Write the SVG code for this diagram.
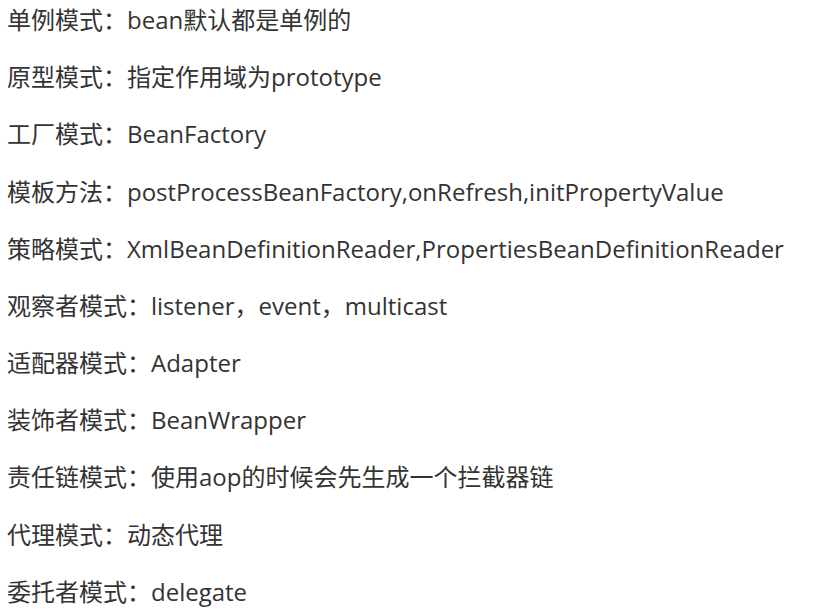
<svg xmlns="http://www.w3.org/2000/svg" width="814" height="616" viewBox="0 0 814 616">
<style>
text{font-family:"Open Sans","Noto Sans CJK SC",sans-serif;font-size:24px;fill:#333;}
</style>
<rect width="814" height="616" fill="#fff"/>
<g id="lines">
<text x="7" y="29">单例模式：bean默认都是单例的</text>
<text x="7" y="86">原型模式：指定作用域为prototype</text>
<text x="7" y="143">工厂模式：BeanFactory</text>
<text x="7" y="201">模板方法：postProcessBeanFactory,onRefresh,initPropertyValue</text>
<text x="7" y="258">策略模式：XmlBeanDefinitionReader,PropertiesBeanDefinitionReader</text>
<text x="7" y="315">观察者模式：listener，event，multicast</text>
<text x="7" y="372">适配器模式：Adapter</text>
<text x="7" y="429">装饰者模式：BeanWrapper</text>
<text x="7" y="486">责任链模式：使用aop的时候会先生成一个拦截器链</text>
<text x="7" y="544">代理模式：动态代理</text>
<text x="7" y="601">委托者模式：delegate</text>
</g>
</svg>
